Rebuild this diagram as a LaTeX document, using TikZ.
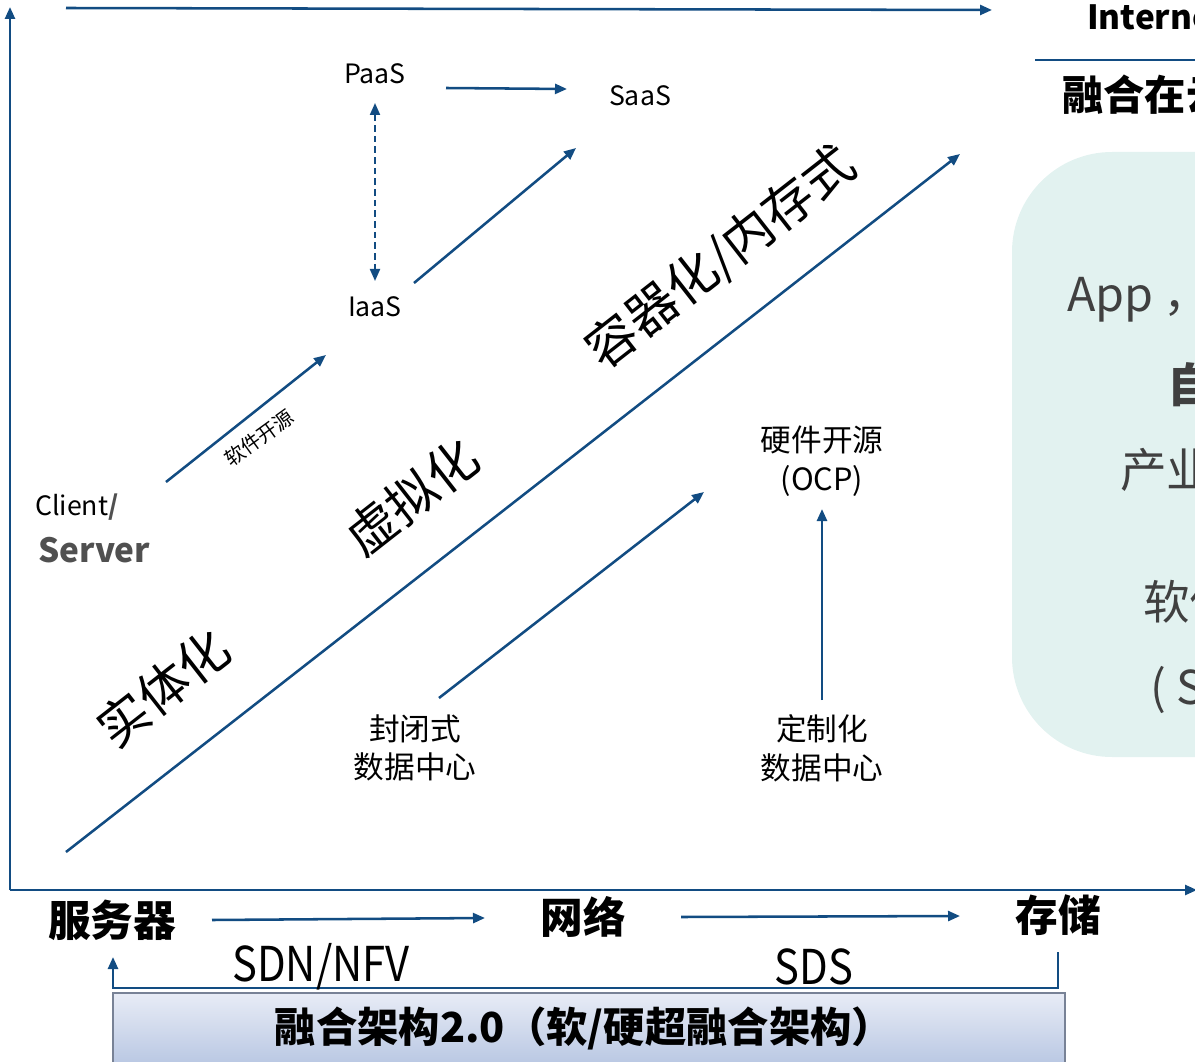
\documentclass[tikz,border=0pt]{standalone}
\usepackage{fontspec}
\setmainfont{Noto Sans CJK SC}
\usetikzlibrary{arrows.meta}
\definecolor{lineblue}{RGB}{18,76,130}
\definecolor{srvgrey}{RGB}{80,80,80}
\definecolor{paneltxt}{RGB}{64,64,64}
\definecolor{panelbg}{RGB}{226,242,240}
\definecolor{boxtop}{RGB}{232,236,246}
\definecolor{boxbot}{RGB}{178,194,224}
\definecolor{boxedge}{RGB}{120,130,150}
\begin{document}
\begin{tikzpicture}[x=0.75pt,y=-0.75pt,
  conn/.style={draw=lineblue,line width=1.9pt,-{Triangle[length=9pt,width=7.5pt]}},
  dconn/.style={draw=lineblue,line width=1.5pt,dash pattern=on 5pt off 3pt,{Triangle[length=9pt,width=7.5pt]}-{Triangle[length=9pt,width=7.5pt]}},
  plain/.style={draw=lineblue,line width=1.9pt},
  lbl/.style={inner sep=0pt,font=\fontsize{20}{24}\selectfont},
  cn/.style={inner sep=0pt,align=center,font=\fontsize{23}{29}\selectfont},
  diag/.style={inner sep=0pt,rotate=38,font=\fontsize{38}{40}\selectfont},
  bigb/.style={inner sep=0pt,font=\bfseries\fontsize{32}{36}\selectfont},
  sdn/.style={inner sep=0pt,font=\fontsize{36}{40}\selectfont},
  ptxt/.style={inner sep=0pt,anchor=west,text=paneltxt,font=\fontsize{35}{40}\selectfont}]
\useasboundingbox (0,0) rectangle (1195,1062);
\clip (0,0) rectangle (1195,1062);

% right panel
\path[fill=panelbg,rounded corners=75pt] (1012,152) rectangle (1400,757);
\node[ptxt] (p1) at (1067,297) {App ，数据，服务};
\node[ptxt,font=\bfseries\fontsize{35}{40}\selectfont] (p2) at (1167,385) {自动化};
\node[ptxt] (p3) at (1120,470) {产业链};
\node[ptxt] (p4) at (1143,602) {软件定义};
\node[ptxt] (p5) at (1150,690) {( SDDC )};

% top right
\node[inner sep=0pt,anchor=west,font=\bfseries\fontsize{25}{30}\selectfont] (inet) at (1087,17) {Internet};
\coordinate (ul0) at (1035,60);
\coordinate (ul1) at (1210,60);
\draw[plain] (ul0) -- (ul1);
\node[inner sep=0pt,anchor=west,font=\bfseries\fontsize{31}{36}\selectfont] (rhz) at (1062,95) {融合在云端};

% axes
\coordinate (o) at (10,890);
\coordinate (ytop) at (10,7);
\coordinate (xend) at (1197,890);
\draw[conn] (o) -- (ytop);
\draw[conn] (o) -- (xend);
\coordinate (t0) at (66,8);
\coordinate (t1) at (992,10);
\draw[conn] (t0) -- (t1);

% PaaS / SaaS / IaaS
\node[lbl] (paas) at (375,74) {PaaS};
\node[lbl] (saas) at (640,96) {SaaS};
\node[lbl] (iaas) at (375,307) {IaaS};
\coordinate (a1) at (446,88);
\coordinate (a2) at (567,89);
\draw[conn] (a1) -- (a2);
\coordinate (d1) at (375,103);
\coordinate (d2) at (375,281);
\draw[dconn] (d1) -- (d2);
\coordinate (b1) at (414,283);
\coordinate (b2) at (576,148);
\draw[conn] (b1) -- (b2);

% client/server
\coordinate (c1) at (166,482);
\coordinate (c2) at (326,355);
\draw[conn] (c1) -- (c2);
\node[inner sep=0pt,rotate=36,font=\fontsize{15}{18}\selectfont] (rjky) at (259,438) {软件开源};
\node[inner sep=0pt,anchor=west,font=\fontsize{20}{24}\selectfont] (client) at (35,507) {Client\textcolor{srvgrey}{\bfseries\itshape /}};
\node[inner sep=0pt,anchor=west,text=srvgrey,font=\bfseries\fontsize{25}{30}\selectfont] (server) at (38,550) {Server};

% main diagonal
\coordinate (m0) at (66,852);
\coordinate (m1) at (960,154);
\draw[conn] (m0) -- (m1);
\node[diag] (shiti) at (163,688) {实体化};
\node[diag] (xuni) at (412,497) {虚拟化};
\node[diag] (rongqi) at (721,258) {容器化/内存式};

% data centres
\node[cn] (ocp) at (822,461) {硬件开源\\(OCP)};
\node[cn] (fbs) at (415,748) {封闭式\\数据中心};
\node[cn] (dzh) at (822,748) {定制化\\数据中心};
\coordinate (e1) at (822,700);
\coordinate (e2) at (822,509);
\draw[conn] (e1) -- (e2);
\coordinate (f1) at (439,698);
\coordinate (f2) at (704,492);
\draw[conn] (f1) -- (f2);

% bottom row
\node[bigb] (fwq) at (112,920) {服务器};
\node[bigb] (wl) at (583,917) {网络};
\node[bigb] (cc) at (1058,915) {存储};
\coordinate (g1) at (212,920);
\coordinate (g2) at (485,918);
\draw[conn] (g1) -- (g2);
\coordinate (h1) at (681,917);
\coordinate (h2) at (960,916);
\draw[conn] (h1) -- (h2);
\coordinate (k0) at (1058,952);
\coordinate (k1) at (1058,988);
\coordinate (k2) at (113,988);
\coordinate (k3) at (113,957);
\draw[conn] (k0) -- (k1) -- (k2) -- (k3);
\node[sdn] (sdnnfv) at (321,967) {\scalebox{0.87}[1]{SDN/NFV}};
\node[sdn] (sds) at (814,967) {\scalebox{0.87}[1]{SDS}};

% bottom box
\path[draw=boxedge,line width=0.8pt,top color=boxtop,bottom color=boxbot] (113,993) rectangle (1065,1075);
\node[inner sep=0pt,font=\bfseries\fontsize{31}{36}\selectfont] (rhjg) at (584,1028) {融合架构2.0（软/硬超融合架构）};
\end{tikzpicture}
\end{document}
